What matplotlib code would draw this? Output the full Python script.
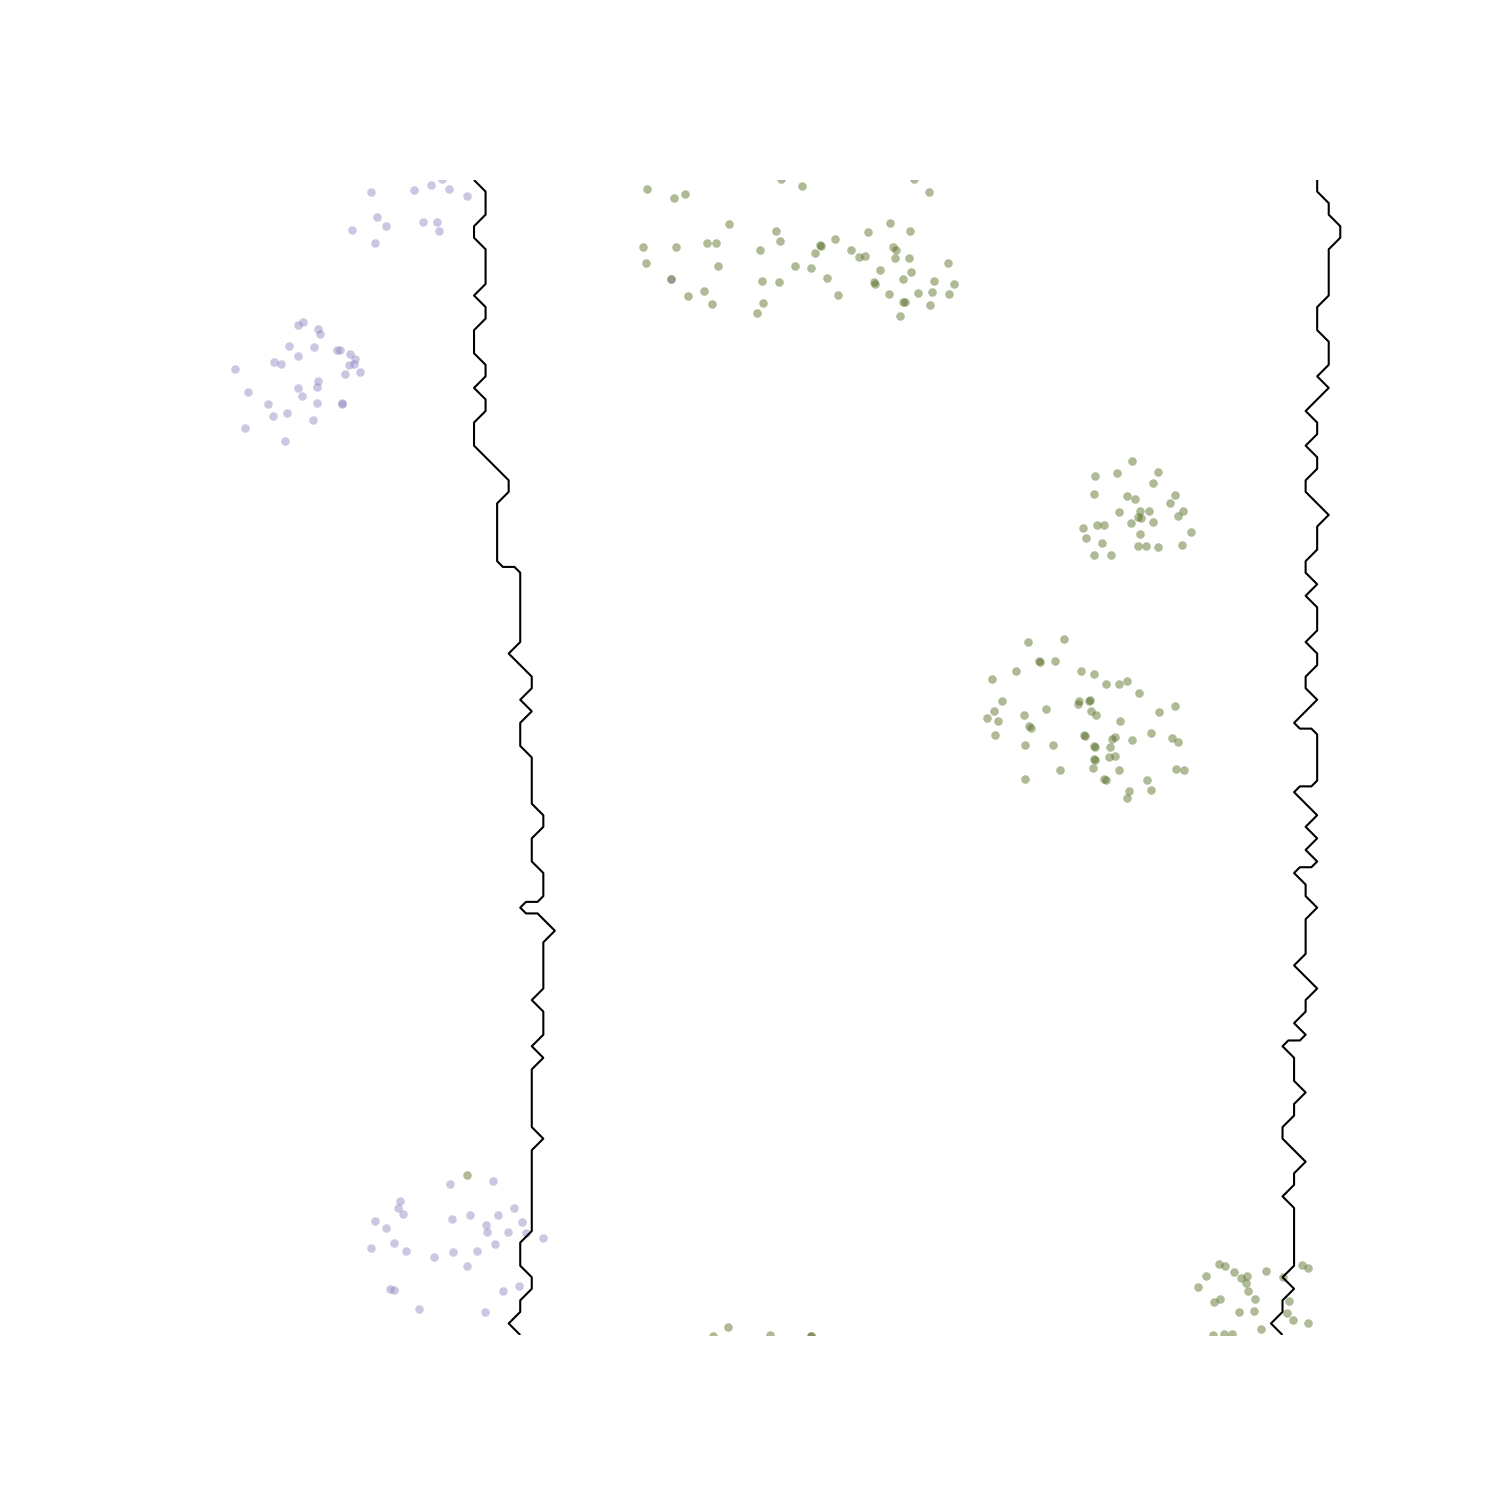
"""Two-class scatter with a k-NN style decision boundary drawn as a contour."""
import numpy as np
import matplotlib
matplotlib.use("Agg")
import matplotlib.pyplot as plt

# class A (lavender) samples
purple_x = [18.38, 22.65, 24.35, 25.45, 26.15, 27.95, 18.92, 19.88, 16.48, 18.75,
            23.55, 24.98, 25.18,
            11.52, 11.08, 13.02, 13.22, 10.12, 12.65, 14.98, 15.28, 11.02, 16.28,
            16.75, 16.18, 16.68, 8.62, 9.38, 4.72, 17.22, 15.78, 13.08, 12.95,
            11.02, 11.48, 6.08, 8.02, 12.95, 15.42, 15.45, 9.92, 8.58, 12.58,
            5.75, 9.78,
            48.32,
            26.22, 30.52, 21.25, 21.05, 21.52, 18.72, 19.88, 26.48, 28.22, 31.08,
            32.65, 33.42, 29.85, 29.92, 32.02, 33.85, 35.55, 20.62, 18.38, 21.82,
            24.62, 26.52, 28.98, 30.75, 27.98, 20.22, 20.65, 31.55, 33.18, 23.18,
            29.78]
purple_y = [114.30, 114.53, 115.03, 115.57, 114.60, 113.90, 111.77, 110.87, 110.53, 109.20,
            111.33, 111.33, 110.40,
            101.27, 100.97, 100.60, 100.07, 98.93, 98.80, 98.47, 98.53, 97.90, 98.10,
            97.60, 97.03, 97.10, 97.33, 97.07, 96.60, 96.33, 96.07, 95.40, 94.80,
            94.67, 93.87, 94.27, 93.13, 93.17, 93.13, 93.20, 92.20, 91.90, 91.50,
            90.67, 89.43,
            105.60,
            15.13, 15.43, 13.43, 12.67, 12.07, 11.43, 10.67, 11.60, 12.00, 11.97,
            12.70, 11.27, 10.97, 10.33, 10.30, 10.23, 9.70, 9.17, 8.70, 8.43,
            7.83, 8.33, 8.37, 9.13, 6.93, 4.63, 4.47, 4.40, 4.90, 2.63,
            2.30]

# class B (olive) samples
green_x = [59.38, 61.48, 72.62, 74.18, 45.95, 48.65, 49.72, 54.15, 58.82, 59.25,
           45.58, 48.85, 51.98, 52.88, 57.22, 63.25, 63.30, 62.78, 64.78, 66.35,
           67.15, 67.78, 68.08, 70.22, 72.25, 70.58, 70.85, 70.72, 72.18, 76.08,
           45.88, 53.05, 60.72, 62.38, 69.25, 72.35, 48.32, 57.42, 59.18, 63.92,
           68.62, 68.75, 71.58, 74.65, 76.68, 74.48, 76.18, 73.08, 70.15, 50.05,
           51.68, 52.48, 65.08, 71.58, 71.78, 74.25, 57.52, 56.95, 71.25,
           94.42, 90.78, 92.92, 97.02, 96.58, 90.68, 93.92, 94.78, 98.78, 98.25,
           93.15, 95.25, 96.15, 99.55, 99.08, 95.02, 95.38, 94.38, 96.58, 90.92,
           91.65, 89.52, 95.28, 100.32, 89.85, 91.42, 95.02, 95.88, 97.08, 99.45,
           90.65, 92.35,
           84.05, 87.65, 85.18, 85.25, 86.78, 82.85, 80.48, 89.35, 90.65, 91.82,
           93.15, 93.92, 95.15, 81.48, 80.65, 79.92, 81.02, 83.68, 85.85, 89.18,
           89.08, 90.15, 90.25, 90.32, 90.88, 84.15, 84.35, 80.75, 89.65, 89.75,
           93.25, 97.15, 98.78, 96.32, 98.42, 99.08, 92.78, 92.48, 94.45, 83.75,
           86.58, 90.62, 90.70, 92.25, 92.18, 92.75, 90.65, 90.70, 90.52, 93.12,
           87.28, 83.72, 91.68, 91.88, 95.98, 98.82, 99.62, 94.12, 96.38, 93.92,
           27.98,
           103.18, 103.72, 101.88, 104.62, 105.35, 105.95, 105.88, 106.05, 101.08, 107.88,
           109.55, 111.42, 112.08, 103.28, 102.68, 106.78, 105.15, 106.65, 110.18, 109.95,
           110.52, 112.02, 107.35, 102.58, 103.68, 104.42,
           52.58, 54.05, 58.28, 62.32, 62.35]
green_y = [115.57, 114.93, 115.57, 114.33, 114.57, 113.67, 114.10, 111.10, 110.40, 109.43,
           108.77, 108.80, 109.17, 109.23, 108.50, 108.97, 108.92, 108.20, 109.57, 108.47,
           107.83, 107.87, 110.33, 111.17, 110.40, 108.77, 108.47, 107.67, 107.67, 107.17,
           107.17, 106.93, 106.87, 106.73, 106.50, 106.33, 105.60, 105.37, 105.30, 105.67,
           105.33, 105.07, 105.57, 105.40, 105.13, 104.30, 104.13, 104.23, 104.13, 103.87,
           104.37, 103.07, 104.00, 103.30, 103.33, 103.00, 103.20, 102.17, 101.90,
           87.43, 85.90, 86.20, 86.30, 85.17, 84.07, 83.87, 83.60, 84.03, 83.17,
           82.33, 82.43, 82.43, 82.37, 81.93, 81.83, 81.67, 81.23, 81.33, 81.03,
           81.03, 80.67, 80.13, 80.27, 79.73, 79.20, 78.87, 78.90, 78.80, 79.00,
           77.97, 77.97,
           69.27, 69.63, 67.43, 67.35, 67.37, 66.43, 65.57, 66.40, 66.13, 65.10,
           65.07, 65.37, 64.17, 63.43, 62.43, 61.67, 61.40, 61.97, 62.57, 63.43,
           63.10, 63.43, 63.50, 62.40, 62.00, 60.93, 60.67, 60.03, 60.03, 59.95,
           61.37, 62.33, 62.90, 60.20, 59.70, 59.27, 59.80, 59.57, 59.47, 59.00,
           58.97, 58.93, 58.85, 58.77, 57.83, 57.90, 57.63, 57.55, 56.67, 56.47,
           56.50, 55.63, 55.63, 55.47, 55.50, 56.60, 56.50, 54.37, 54.47, 53.67,
           15.97,
           7.10, 6.90, 5.93, 6.30, 5.67, 5.87, 5.17, 4.43, 4.83, 6.43,
           5.83, 6.97, 6.73, 3.60, 3.27, 3.63, 2.27, 2.40, 3.40, 2.20,
           1.53, 1.17, 0.63, 0.00, 0.10, 0.07,
           -0.10, 0.80, 0.00, -0.10, -0.10]

# predicted-class grid: per row (top to bottom) first and last+1 column of class B
left_edge = [26, 27, 27, 27, 26, 26, 27, 27, 27, 27, 26, 27, 27, 26, 26, 26, 27, 27, 26, 27,
             27, 26, 26, 26, 27, 28, 29, 29, 28, 28, 28, 28, 28, 28, 30, 30, 30, 30, 30, 30,
             30, 29, 30, 31, 31, 30, 31, 30, 30, 30, 31, 31, 31, 31, 31, 32, 32, 31, 31, 31,
             32, 32, 32, 30, 32, 33, 32, 32, 32, 32, 32, 31, 32, 32, 32, 31, 32, 31, 31, 31,
             31, 31, 31, 32, 31, 31, 31, 31, 31, 31, 31, 31, 30, 30, 30, 31, 31, 30, 30, 29,
             30]
right_edge = [99, 99, 100, 100, 101, 101, 100, 100, 100, 100, 100, 99, 99, 99, 100, 100, 100, 99, 100, 99,
              98, 99, 99, 98, 99, 99, 98, 98, 99, 100, 99, 99, 99, 98, 98, 99, 98, 99, 99, 99,
              98, 99, 99, 98, 98, 99, 98, 97, 99, 99, 99, 99, 99, 97, 98, 99, 98, 99, 98, 99,
              97, 98, 98, 99, 98, 98, 98, 98, 97, 98, 99, 98, 98, 97, 98, 96, 97, 97, 97, 98,
              97, 97, 96, 96, 97, 98, 97, 97, 96, 97, 97, 97, 97, 97, 97, 96, 97, 96, 96, 95,
              96]

h = 1.155
gx = -0.8 + h * np.arange(103)
gy = 115.5 - h * np.arange(len(left_edge))
cols = np.arange(len(gx))
Z = ((cols[None, :] >= np.array(left_edge)[:, None]) &
     (cols[None, :] < np.array(right_edge)[:, None])).astype(float)

fig, ax = plt.subplots(figsize=(15, 15), dpi=100)
ax.scatter(purple_x, purple_y, s=38, color="#8b83bf", alpha=0.45, linewidths=0)
ax.scatter(green_x, green_y, s=38, color="#4e6819", alpha=0.45, linewidths=0)
ax.contour(gx, gy[::-1], Z[::-1], levels=[0.5], colors="black", linewidths=1.5)
ax.set_xlim(0, 116.25)
ax.set_ylim(0, 115.5)
ax.axis("off")
fig.savefig("out.png", dpi=100)
